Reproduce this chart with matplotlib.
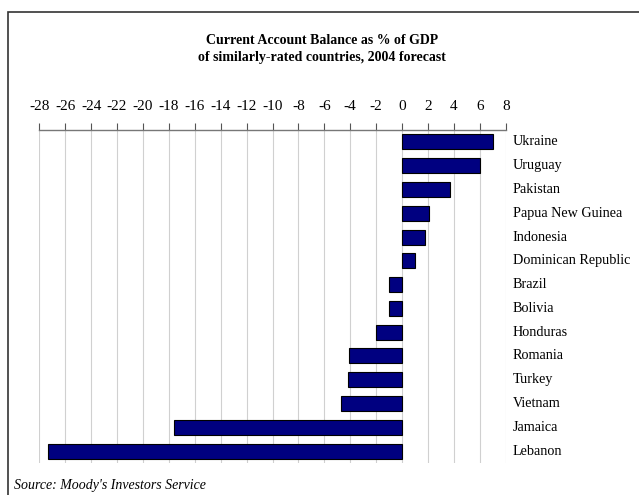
import matplotlib
matplotlib.use("Agg")
import matplotlib.pyplot as plt
from matplotlib.patches import Rectangle

countries = ["Ukraine", "Uruguay", "Pakistan", "Papua New Guinea", "Indonesia",
             "Dominican Republic", "Brazil", "Bolivia", "Honduras", "Romania",
             "Turkey", "Vietnam", "Jamaica", "Lebanon"]
values = [7.0, 6.0, 3.7, 2.1, 1.8, 1.0, -1.0, -1.0, -2.0, -4.1, -4.2, -4.7, -17.6, -27.3]
ticks = list(range(-28, 9, 2))

plt.rcParams['font.family'] = ['Liberation Serif', 'DejaVu Serif']

fig = plt.figure(figsize=(6.39, 4.95), dpi=100)
fig.patches.append(Rectangle((8/639, -0.1), 1.2, 1 - 12/495 + 0.1, transform=fig.transFigure,
                             fill=False, edgecolor='#333333', linewidth=1.2))

ax = fig.add_axes([39.3/639, 1 - 463/495, (505.7 - 39.3)/639, (463 - 130)/495])
y = list(range(len(countries)))
ax.barh(y, values, height=0.63, color='#000080', edgecolor='black', linewidth=0.8, zorder=3)
ax.set_ylim(len(countries) - 0.5, -0.5)
ax.set_xlim(-28, 8)
ax.set_xticks(ticks)
ax.set_xticklabels([str(t) for t in ticks], fontsize=11)
ax.xaxis.tick_top()
ax.tick_params(axis='x', direction='out', length=5, width=0.8, color='#555555', pad=7)
ax.grid(axis='x', color='#d0d0d0', linewidth=0.8, zorder=0)
for s in ['bottom', 'left', 'right']:
    ax.spines[s].set_visible(False)
ax.spines['top'].set_color('#777777')
ax.spines['top'].set_linewidth(1.0)
ax.set_yticks([])
for i, c in enumerate(countries):
    ax.annotate(c, xy=(1.0, i), xycoords=('axes fraction', 'data'),
                xytext=(7, 0), textcoords='offset pixels', fontsize=10.2,
                va='center', ha='left')

fig.text(322/639, 1 - 40/495, "Current Account Balance as % of GDP", ha='center', va='center',
         fontsize=10, fontweight='bold')
fig.text(322/639, 1 - 57/495, "of similarly-rated countries, 2004 forecast", ha='center', va='center',
         fontsize=10, fontweight='bold')
fig.text(14/639, 1 - 485/495, "Source: Moody's Investors Service", ha='left', va='center',
         fontsize=10, fontstyle='italic')

fig.savefig("out.png", dpi=100)
